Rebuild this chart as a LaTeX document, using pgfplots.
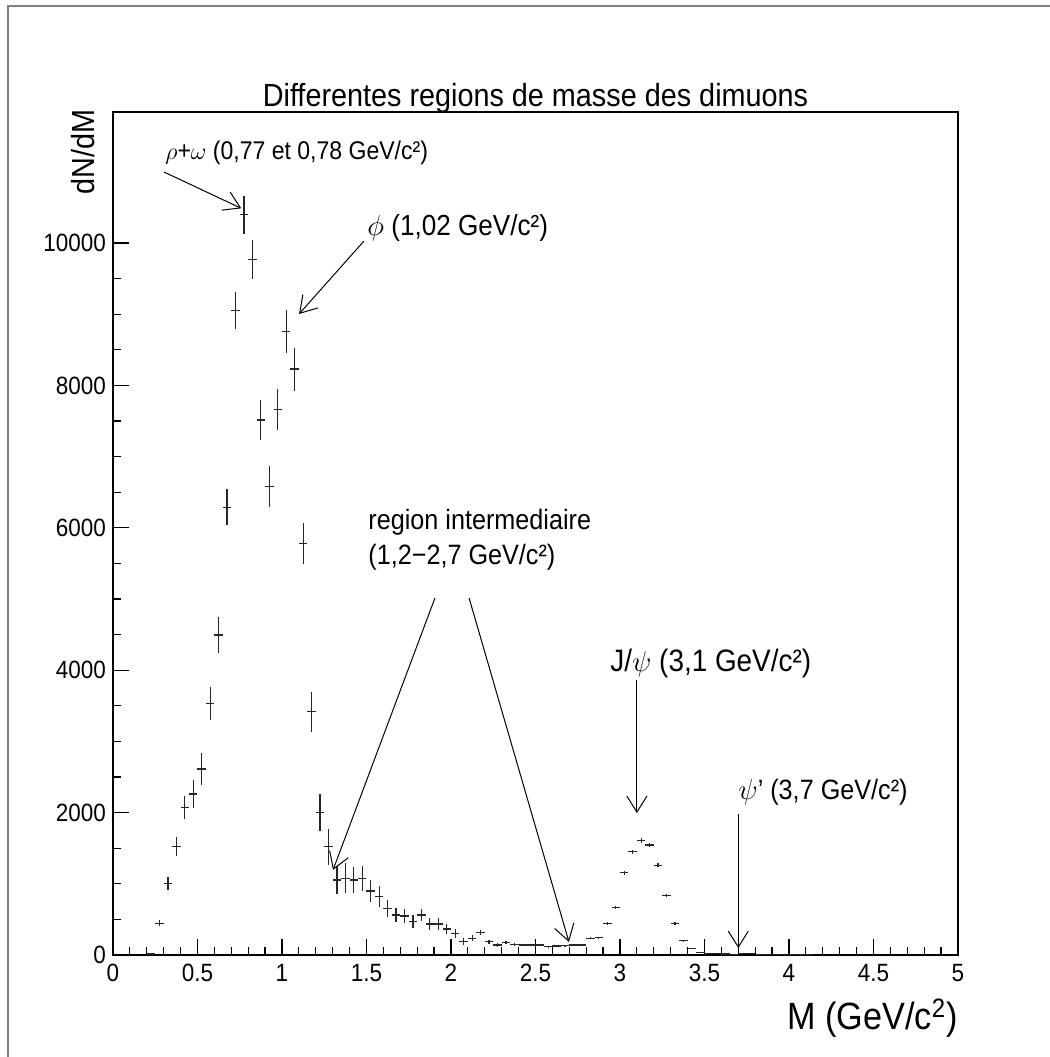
\documentclass[border=0pt]{standalone}
\usepackage{fontspec}
\setmainfont{Liberation Sans}[FakeStretch=0.9]
\usepackage{pgfplots}
\usepackage{pgfplotstable}
\pgfplotsset{compat=1.18}
\usetikzlibrary{arrows.meta}

% mass bin centre, dN/dM, error
\pgfplotstableread{
x     y      ey
0.225 15     5
0.275 445    40
0.325 1007   94
0.375 1521   133
0.425 2074   166
0.475 2261   199
0.525 2612   222
0.575 3535   234
0.625 4494   248
0.675 6288   255
0.725 9049   262
0.775 10398  267
0.825 9771   272
0.875 7514   281
0.925 6578   286
0.975 7664   290
1.025 8760   300
1.075 8230   302
1.125 5777   286
1.175 3417   279
1.225 2004   262
1.275 1521   250
1.325 1053   197
1.375 1077   211
1.425 1053   183
1.475 1077   180
1.525 899    159
1.575 819    148
1.625 655    124
1.675 562    105
1.725 548    100
1.775 468    95
1.825 562    90
1.875 435    87
1.925 435    80
1.975 365    70
2.025 304    60
2.075 187    45
2.125 234    40
2.175 314    40
2.225 187    30
2.275 140    25
2.325 178    25
2.375 150    20
2.425 140    15
2.475 140    15
2.525 140    15
2.575 117    12
2.625 126    12
2.675 131    12
2.725 140    12
2.775 140    12
2.825 234    15
2.875 243    15
2.925 445    20
2.975 670    25
3.025 1156   30
3.075 1451   30
3.125 1606   35
3.175 1545   35
3.225 1259   30
3.275 833    25
3.325 445    20
3.375 201    15
3.425 94     10
3.475 38     8
3.525 24     6
3.575 24     6
3.625 14     5
3.675 10     5
3.725 18     5
3.775 24     6
3.825 10     5
3.875 8      4
3.925 6      4
3.975 5      3
4.025 4      3
4.075 3      2
4.125 3      2
}\dimuons

\begin{document}
\begin{tikzpicture}[arr/.style={-{Straight Barb[length=8pt,width=10pt]}, line width=0.5pt}]
\useasboundingbox (0pt,0pt) rectangle (525pt,528.5pt);
\draw[gray, line width=1pt] (4pt,-1pt) -- (4pt,525.5pt) -- (526pt,525.5pt);
\begin{axis}[
  at={(56.5pt,51pt)}, anchor=south west,
  scale only axis, width=422.5pt, height=421.5pt,
  xmin=0, xmax=5, ymin=0, ymax=11840,
  axis line style={line width=0.8pt},
  xtick={0,0.5,...,5}, minor x tick num=4,
  ytick={0,2000,...,10000}, minor y tick num=3,
  scaled y ticks=false,
  xtick pos=left, ytick pos=left,
  tick align=inside,
  major tick length=8pt, minor tick length=4pt,
  tick style={line width=0.6pt, black},
  /pgf/number format/assume math mode=true,
  /pgf/number format/1000 sep={},
  tick label style={font=\fontsize{12.5}{14}\selectfont},
  xticklabel style={yshift=-1pt},
  clip=false,
]
\addplot[only marks, mark=-, mark size=0pt, black,
  error bars/.cd, x dir=both, x fixed=0.025, y dir=both, y explicit,
  error mark=none, error bar style={line width=0.6pt, draw=black!85}]
  table[x=x, y=y, y error=ey] {\dimuons};

\draw[arr] (axis cs:0.302,10997) -- (axis cs:0.759,10487);
\draw[arr] (axis cs:1.485,10028) -- (axis cs:1.101,9003);
\draw[arr] (axis cs:1.905,5014) -- (axis cs:1.302,1194);
\draw[arr] (axis cs:2.107,5014) -- (axis cs:2.698,183);
\draw[arr] (axis cs:3.10,3862) -- (axis cs:3.10,1994);
\draw[arr] (axis cs:3.70,1980) -- (axis cs:3.70,98);
\end{axis}

\node[anchor=base, inner sep=0pt, font=\fontsize{16}{18}\selectfont] at (267.75pt,475pt)
  {Differentes regions de masse des dimuons};
\node[anchor=east, rotate=90, inner sep=0pt, font=\fontsize{16}{18}\selectfont] at (41.5pt,474pt) {dN/dM};
\node[anchor=base east, inner sep=0pt, font=\fontsize{19}{21}\selectfont] at (479pt,13.5pt) {M (GeV/c\textsuperscript{2})};

\begin{scope}[every node/.style={anchor=base west, inner sep=0pt}]
\node[font=\fontsize{12.8}{15}\selectfont] at (82.5pt,448.5pt) {$\rho$+$\omega$ (0,77 et 0,78 GeV/c²)};
\node[font=\fontsize{14.5}{16}\selectfont] at (183.5pt,410.5pt) {$\phi$ (1,02 GeV/c²)};
\node[font=\fontsize{14}{16}\selectfont] at (184pt,263.5pt) {region intermediaire};
\node[font=\fontsize{14}{16}\selectfont] at (184pt,246pt) {(1,2−2,7 GeV/c²)};
\node[font=\fontsize{15.5}{17}\selectfont] at (305pt,192.5pt) {J/$\psi$ (3,1 GeV/c²)};
\node[font=\fontsize{14}{16}\selectfont] at (369pt,128.5pt) {$\psi$' (3,7 GeV/c²)};
\end{scope}
\end{tikzpicture}
\end{document}
